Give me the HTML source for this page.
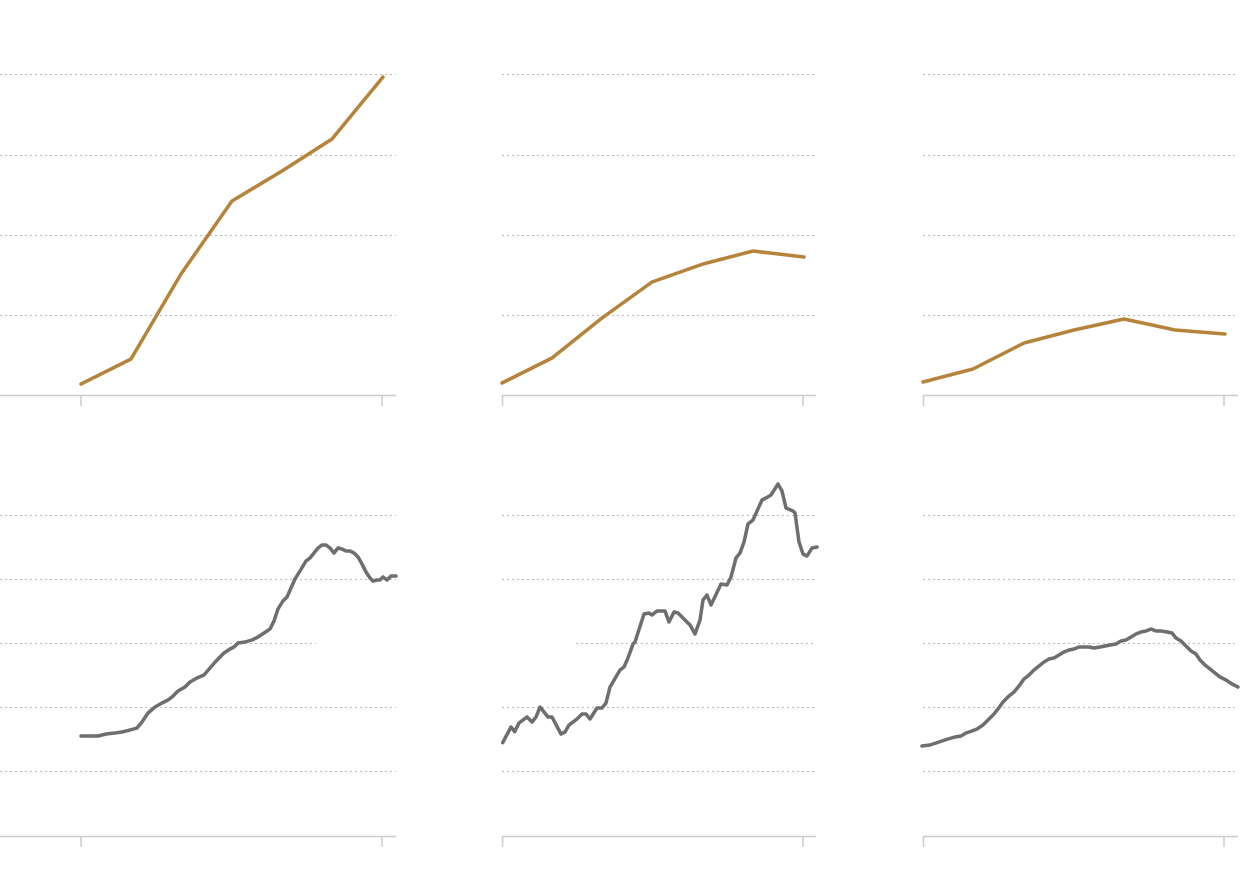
<!DOCTYPE html>
<html><head><meta charset="utf-8"><style>html,body{margin:0;padding:0;background:#fff}svg{display:block}</style></head>
<body>
<svg width="1240" height="886" viewBox="0 0 1240 886" xmlns="http://www.w3.org/2000/svg">
<g stroke="#b8b8b8" stroke-width="1" stroke-dasharray="2,3" fill="none">
<path d="M0 74.5H396M0 155.5H396M0 235.5H396M0 315.5H396"/>
<path d="M502 74.5H816M502 155.5H816M502 235.5H816M502 315.5H816"/>
<path d="M923 74.5H1238M923 155.5H1238M923 235.5H1238M923 315.5H1238"/>
<path d="M0 515.5H396M0 579.5H396M0 643.5H316M0 707.5H396M0 771.5H396"/>
<path d="M502 515.5H816M502 579.5H816M576 643.5H816M502 707.5H816M502 771.5H816"/>
<path d="M923 515.5H1238M923 579.5H1238M923 643.5H1238M923 707.5H1238M923 771.5H1238"/>
</g>
<g stroke="#cccccc" stroke-width="1.5" fill="none">
<path d="M0 395.5H396M81 395V406M382 395V406"/>
<path d="M502 395.5H816M502.5 395V406M803 395V406"/>
<path d="M923 395.5H1238M923.5 395V406M1224 395V406"/>
<path d="M0 836.5H396M81 836V847M382 836V847"/>
<path d="M502 836.5H816M502.5 836V847M803 836V847"/>
<path d="M923 836.5H1238M923.5 836V847M1224 836V847"/>
</g>
<g stroke="#b5843a" stroke-width="3.5" fill="none" stroke-linejoin="round" stroke-linecap="round">
<polyline points="81,384 131,359 181,274 232,201 282,171 332,139 383,77"/>
<polyline points="502,383 552,358 602,318 652,282 703,264 753,251 804,257"/>
<polyline points="923,382 973,369 1024,343 1074,330 1124,319 1175,330 1225,334"/>
</g>
<g stroke="#6e6e6e" stroke-width="3.5" fill="none" stroke-linejoin="round" stroke-linecap="round">
<polyline points="81,736 90,736 98,736 106,734 115,733 122,732 130,730 137,728 142,722 148,713 155,707 162,703 168,700 172,697 178,691 185,687 190,682 197,678 204,675 210,668 217,660 224,653 230,649 234,647 238,643 245,642 252,640 258,637 264,633 270,629 274,621 278,609 283,601 287,597 291,588 295,579 300,571 306,561 310,558 314,553 318,548 322,545 326,545 330,548 334,553 338,548 342,549 346,551 350,551 354,553 358,557 362,564 366,572 370,578 373,581 377,580 380,580 383,577 387,580 391,576 396,576"/>
<polyline points="502.7,742.7 511,727 514.7,731.7 519,723 527,717 532,722 536,717 540,707 548,717 552,717 561,734 565,732 569,725 577,719 582,714 586,714 590,719 597,708 602,708 606,703 610,687 613,682 620,670 624,667 628,658 633,644 635,642 644,614 649,613 652,615 657,611 665,611 669,622 674,612 678,613 684,619 690,625 695,634 700,620 703,600 707,595 711,605 721,584 727,585 731,577 736,558 740,553 744,542 748,524 753,520 762,500 766,498 771,495 778,484 782,491 786,508 793,511 795,513 799,542 803,554 807,556 812,548 817,547"/>
<polyline points="922,746 930,745 936,743 942,741 948,739 955,737 961,736 966,733 972,731 977,729 983,725 988,720 994,714 998,709 1003,702 1009,696 1014,692 1019,686 1024,679 1029,675 1034,670 1039,666 1044,662 1049,659 1054,658 1059,655 1064,652 1069,650 1074,649 1079,647 1084,647 1089,647 1094,648 1100,647 1105,646 1110,645 1116,644 1121,641 1126,640 1131,637 1136,634 1141,632 1146,631 1151,629 1156,631 1161,631 1167,632 1172,633 1176,638 1181,641 1186,646 1191,651 1196,654 1200,660 1205,665 1210,669 1215,673 1220,677 1226,680 1232,684 1238,687"/>
</g>
</svg>
</body></html>
